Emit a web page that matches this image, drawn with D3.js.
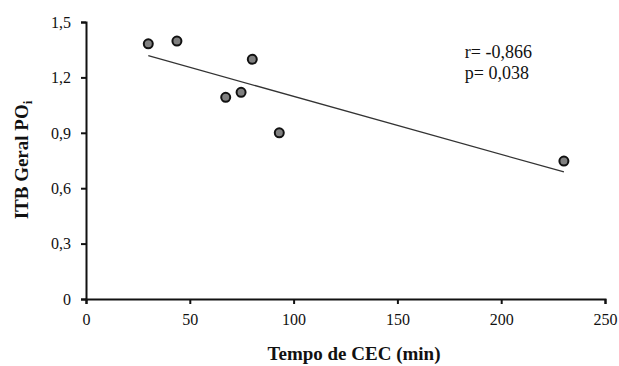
<!DOCTYPE html>
<html>
<head>
<meta charset="utf-8">
<script src="https://cdn.jsdelivr.net/npm/d3@7"></script>
<style>
  body { margin: 0; background: #fff; }
  text { font-family: "Liberation Serif", "Times New Roman", serif; fill: #111; }
</style>
</head>
<body>
<svg id="chart"></svg>
<script>
// tempo de CEC (min) e ITB geral POi
var tempoCEC = [30, 43.8, 67.3, 74.7, 80.1, 93.1, 230.2];
var itbGeral = [1.382, 1.397, 1.092, 1.119, 1.298, 0.900, 0.747];
var xTicks = [0, 50, 100, 150, 200, 250];
var yTicks = [0, 0.3, 0.6, 0.9, 1.2, 1.5];
var stats = ["r= -0,866", "p= 0,038"];

var W = 619, H = 366;
var margin = {top: 22, right: 14, bottom: 67, left: 86},
    width = W - margin.left - margin.right,
    height = H - margin.top - margin.bottom;

var svg = d3.select("#chart").attr("width", W).attr("height", H);
var g = svg.append("g").attr("transform", "translate(" + margin.left + "," + margin.top + ")");

var x = d3.scaleLinear().domain([0, 250]).range([0, 519]);
var y = d3.scaleLinear().domain([0, 1.5]).range([height, 0]);

var fmt = function(d) { return String(d).replace(".", ","); };

// eixos
var xaxis = g.append("g")
  .attr("transform", "translate(0," + height + ")")
  .call(d3.axisBottom(x).tickValues(xTicks).tickSize(5).tickFormat(fmt));
var yaxis = g.append("g")
  .call(d3.axisLeft(y).tickValues(yTicks).tickSize(5).tickFormat(fmt));

[xaxis, yaxis].forEach(function(a) {
  a.select(".domain").attr("stroke", "#111").attr("stroke-width", 2);
  a.selectAll(".tick line").attr("stroke", "#111").attr("stroke-width", 2);
  a.selectAll(".tick text").style("font-family", "Liberation Serif").style("font-size", "16px").attr("fill", "#333");
});
xaxis.selectAll(".tick text").attr("y", 0).attr("dy", 0).attr("transform", "translate(0,26)");
yaxis.selectAll(".tick text").attr("x", -15).attr("dy", "0.33em");

// reta de regressão (mínimos quadrados)
var mx = d3.mean(tempoCEC), my = d3.mean(itbGeral);
var sxy = d3.sum(tempoCEC, function(v, i) { return (v - mx) * (itbGeral[i] - my); });
var sxx = d3.sum(tempoCEC, function(v) { return (v - mx) * (v - mx); });
var slope = sxy / sxx, intercept = my - slope * mx;
var ext = d3.extent(tempoCEC);

g.append("path")
  .attr("d", d3.line().x(function(d) { return x(d); }).y(function(d) { return y(intercept + slope * d); })(ext))
  .attr("stroke", "#333")
  .attr("stroke-width", 1.3)
  .attr("fill", "none");

// pontos
g.selectAll(".pt")
  .data(tempoCEC)
  .enter().append("circle")
  .attr("class", "pt")
  .attr("cx", function(d) { return x(d); })
  .attr("cy", function(d, i) { return y(itbGeral[i]); })
  .attr("r", 4.5)
  .attr("fill", "#808080")
  .attr("stroke", "#111")
  .attr("stroke-width", 2);

// estatísticas
g.selectAll(".stat")
  .data(stats)
  .enter().append("text")
  .attr("x", x(182.5))
  .attr("y", function(d, i) { return 36 + i * 21; })
  .style("font-size", "18px")
  .text(function(d) { return d; });

// títulos
svg.append("text")
  .attr("x", 354)
  .attr("y", 360)
  .attr("text-anchor", "middle")
  .style("font-size", "19px")
  .style("font-weight", "bold")
  .text("Tempo de CEC (min)");

var ylab = svg.append("text")
  .attr("transform", "translate(28," + 160 + ") rotate(-90)")
  .attr("text-anchor", "middle")
  .style("font-size", "19px")
  .style("font-weight", "bold");
ylab.append("tspan").text("ITB Geral PO");
ylab.append("tspan").attr("dy", "0.3em").style("font-size", "13px").text("i");
</script>
</body>
</html>
